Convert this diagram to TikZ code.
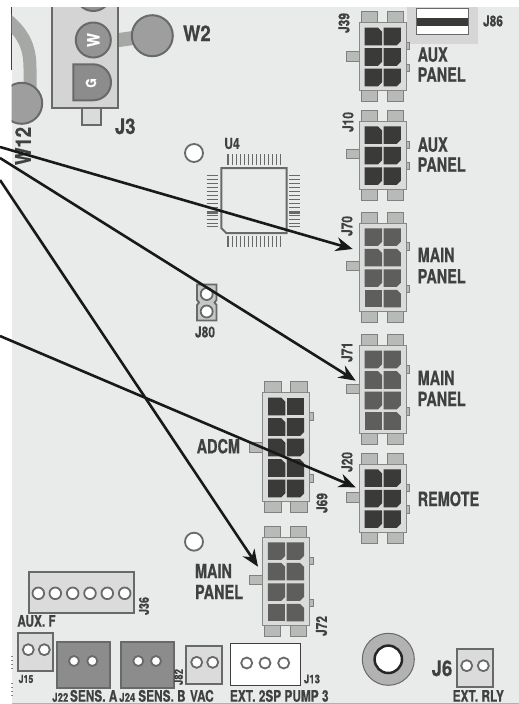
\documentclass[tikz,border=0pt]{standalone}
\usepackage{fontspec}
\usetikzlibrary{arrows.meta}
\newfontfamily\cnfont[FakeStretch=0.74,FakeBold=0.5]{TeX Gyre Heros}
\newfontfamily\cnmid[FakeStretch=0.8,FakeBold=0.35]{TeX Gyre Heros}
\newfontfamily\cnwide[FakeStretch=0.86,FakeBold=0.6]{TeX Gyre Heros}
\definecolor{bgc}{HTML}{E9EBEA}
\definecolor{edgec}{HTML}{686A68}
\definecolor{bodyc}{HTML}{DADBDA}
\definecolor{tabc}{HTML}{B8BAB8}
\definecolor{txtc}{HTML}{404040}
\definecolor{darkcell}{HTML}{3A3A38}
\definecolor{midcell}{HTML}{5E5E5C}
\definecolor{wirec}{HTML}{A6A8A6}
\tikzset{
  x=1pt,y=-1pt,
  lbl/.style={inner sep=0pt,outer sep=0pt,text=txtc},
  big/.style={lbl,anchor=base west,font=\cnfont\bfseries\fontsize{19.5}{19.5}\selectfont},
  mid/.style={lbl,font=\cnmid\bfseries\fontsize{15}{15}\selectfont},
  small/.style={lbl,font=\cnmid\bfseries\fontsize{11}{11}\selectfont},
  bottom/.style={lbl,anchor=base west,font=\cnfont\bfseries\fontsize{16}{16}\selectfont},
  huge/.style={lbl,anchor=base west,font=\cnwide\bfseries\fontsize{21.5}{21.5}\selectfont},
  connbody/.style={draw=edgec!80,fill=bodyc,line width=1pt,inner sep=0pt,outer sep=0pt,anchor=north west,minimum width=47pt},
  conntab/.style={draw=edgec!85,fill=tabc,line width=1pt},
  pad/.style={draw=edgec,fill=white,line width=1.8pt},
  hdr/.style={draw=edgec,line width=2pt},
  arr/.style={draw=black!90,line width=2.6pt,-{Stealth[length=17pt,width=14pt]}},
  pin/.style={draw=edgec,line width=0.8pt},
  pinb/.style={draw=edgec,line width=2pt},
}
% name, x, y, rows, cell colour, left tab y, right tab 1 y, right tab 2 y, cells r/c/code
\newcommand\conn[9]{%
  \pgfmathsetmacro\bh{6.2+20.5*#4}%
  \foreach \tx in {2,28}{%
    \draw[conntab] ({#2+\tx},{#3-11}) rectangle ++(16.3,11);
    \draw[conntab] ({#2+\tx},{#3+\bh}) rectangle ++(16.3,11);
  }%
  \draw[conntab] ({#2-13.3},{#3+#6}) rectangle ++(13.3,9.5);
  \draw[conntab] ({#2+47},{#3+#7}) rectangle ++(3.5,7.3);
  \draw[conntab] ({#2+47},{#3+#8}) rectangle ++(3.5,7.3);
  \node[connbody,minimum height=\bh pt] (#1) at (#2,#3) {};
  \foreach \r/\c/\k in {#9}{%
    \pgfmathsetmacro\cx{#2+5.4+18.8*\c}%
    \pgfmathsetmacro\cy{#3+5+20.5*\r}%
    \ifcase\k
      \fill[#5] (\cx,\cy) rectangle ++(17.3,17.6);
    \or
      \fill[#5] (\cx,\cy) -- ++(13.3,0) -- ++(4,4) -- ++(0,13.6) -- ++(-17.3,0) -- cycle;
    \or
      \fill[#5] (\cx,\cy) -- ++(17.3,0) -- ++(0,13.6) -- ++(-4,4) -- ++(-13.3,0) -- cycle;
    \fi
  }%
}
\begin{document}
\begin{tikzpicture}
\useasboundingbox (0,0) rectangle (519,704);
\fill[white] (0,0) rectangle (519,704);
\fill[bgc] (11.5,7) rectangle (519,703);
\draw[black!30,line width=0.7pt] (11.5,703) -- (519,703);
\draw[black!75,line width=0.7pt] (11.2,7) -- (11.2,70);
\foreach \ty in {656,660,664,668,683,687,691,695}{\draw[black!45,line width=0.7pt] (10.5,\ty) -- (12.5,\ty);}
\begin{scope}
\clip (11.5,7) rectangle (519,703);
% wires
\draw[wirec,line width=13pt] (5,18) .. controls (22,32) and (30,45) .. (30,68) -- (30,92);
\draw[wirec,line width=14pt] (112,41) -- (140,37);
% J3 block
\draw[hdr,fill=bodyc] (82.3,108) rectangle (100.7,125.3);
\draw[hdr,fill=black!17] (51.7,0) rectangle (118,108);
\draw[hdr,fill=black!42] (93.3,-7) circle (18);
\node[draw=edgec,line width=2pt,fill=black!42,circle,minimum size=35pt,inner sep=0pt] (W) at (93.3,40) {};
\draw[hdr,fill=black!45] (73.3,64.3) -- (93,64.3) .. controls (103,64.3) and (111,72.3) .. (111,82.3) .. controls (111,92.3) and (103,100.3) .. (93,100.3) -- (73.3,100.3) -- cycle;
\node[lbl,rotate=90,text=white,font=\cnwide\bfseries\fontsize{17}{17}\selectfont] (Wt) at (93.3,40) {W};
\node[lbl,rotate=90,text=white,font=\cnwide\bfseries\fontsize{14}{14}\selectfont] (Gt) at (91,83) {G};
\node[draw=edgec,line width=2pt,fill=black!38,circle,minimum size=41pt,inner sep=0pt] (cW2) at (152.3,35.7) {};
\node[draw=edgec,line width=2pt,fill=black!38,circle,minimum size=41pt,inner sep=0pt] (cW12) at (21.7,103.3) {};
\end{scope}
\node[huge] (tW2) at (183,41) {W2};
\node[huge,anchor=center,rotate=90] (tW12) at (23,146) {W12};
\node[huge] (tJ3) at (115,134) {J3};
% J86
\fill[black!16] (407.3,7) rectangle (477.7,43.7);
\draw[edgec,line width=1pt,fill=white] (416.3,8.3) rectangle (468.7,34.7);
\fill[darkcell] (416.8,18) rectangle (468.2,26);
\node[mid] (tJ86) at (493,21) {J86};
% connectors
\conn{J39}{359.3}{22.7}{3}{darkcell}{29}{19.6}{41.3}{0/0/1,0/1/2,1/0/2,1/1/2,2/0/2,2/1/2}
\conn{J10}{359.3}{121.3}{3}{darkcell}{28}{19.7}{41}{0/0/1,0/1/2,1/0/2,1/1/2,2/0/2,2/1/2}
\conn{J70}{359.3}{223.3}{4}{midcell}{38}{19.4}{62}{0/0/2,0/1/2,1/0/1,1/1/1,2/0/2,2/1/2,3/0/0,3/1/1}
\conn{J71}{359.3}{345.7}{4}{midcell}{38.3}{20}{62}{0/0/2,0/1/2,1/0/1,1/1/1,2/0/2,2/1/2,3/0/0,3/1/1}
\conn{J20}{359.3}{464.3}{3}{darkcell}{28.4}{19.7}{41.4}{0/0/1,0/1/2,1/0/2,1/1/2,2/0/2,2/1/2}
\conn{J69}{262.7}{392.7}{5}{darkcell}{50}{20}{82}{0/0/1,0/1/0,1/0/1,1/1/2,2/0/1,2/1/2,3/0/1,3/1/1,4/0/2,4/1/2}
\conn{J72}{262.5}{537.3}{4}{midcell}{38}{20}{62}{0/0/2,0/1/2,1/0/1,1/1/1,2/0/2,2/1/2,3/0/0,3/1/1}
% connector labels
\node[mid,rotate=90] (tJ39) at (344,23) {J39};
\node[mid,rotate=90] (tJ10) at (348,122) {J10};
\node[mid,rotate=90] (tJ70) at (347,226) {J70};
\node[mid,rotate=90] (tJ71) at (347,352) {J71};
\node[mid,rotate=90] (tJ20) at (347,462) {J20};
\node[mid,rotate=90] (tJ69) at (322,503) {J69};
\node[mid,rotate=90] (tJ72) at (321.5,626) {J72};
\node[big] (a1) at (417.7,61.7) {AUX};
\node[big] (a2) at (417.7,81.7) {PANEL};
\node[big] (a3) at (417.7,151.7) {AUX};
\node[big] (a4) at (417.7,171.7) {PANEL};
\node[big] (m1) at (417.7,262) {MAIN};
\node[big] (m2) at (417.7,283.3) {PANEL};
\node[big] (m3) at (417.7,385) {MAIN};
\node[big] (m4) at (417.7,406) {PANEL};
\node[big] (rem) at (417.7,506) {REMOTE};
\node[big] (adcm) at (196.7,453.3) {ADCM};
\node[big] (m5) at (195,578) {MAIN};
\node[big] (m6) at (195,599) {PANEL};
% U4
\node[pad,circle,minimum size=18pt,inner sep=0pt] (h1) at (194,153) {};
\node[pad,circle,minimum size=18pt,inner sep=0pt] (h2) at (194,541.7) {};
\node[mid] (tU4) at (232,143.5) {U4};
\draw[edgec,line width=2pt] (221.3,168) -- (286.7,168) -- (286.7,233) -- (226.3,233) -- (221.3,228) -- cycle;
\foreach \i in {0,...,13}{
  \pgfmathsetmacro\p{228+4.02*\i}
  \pgfmathsetmacro\q{175.5+3.95*\i}
  \draw[pin] (\p,154) -- (\p,165);
  \draw[pin] (\p,236) -- (\p,246.7);
  \draw[pin] (206.7,\q) -- (218.3,\q);
  \draw[pin] (289.3,\q) -- (300,\q);
}
\draw[pinb] (228,154) -- (228,165);
\draw[pinb] (228,236) -- (228,246.7);
\draw[pinb] (206.7,213) -- (218.3,213);
\draw[pinb] (289.3,213) -- (300,213);
% J80
\draw[edgec,line width=1.8pt,fill=black!22] (197,284.5) -- (216.5,284.5) -- (216.5,300) -- (214.5,302.5) -- (216.5,305) -- (216.5,320.5) -- (197,320.5) -- (197,305) -- (199,302.5) -- (197,300) -- cycle;
\node[pad,circle,minimum size=12pt,inner sep=0pt] (j80a) at (206.7,294) {};
\node[pad,circle,minimum size=12pt,inner sep=0pt] (j80b) at (206.7,311.5) {};
\node[mid] (tJ80) at (205,332) {J80};
% J36
\draw[hdr,fill=bodyc] (28.7,572) rectangle (134,613.3);
\foreach \cxx in {38.3,55.3,72.7,90,107.3,124.7}{\draw[pad] (\cxx,593.3) circle (5.8);}
\node[small,rotate=90,font=\cnmid\bfseries\fontsize{13.5}{13.5}\selectfont] (tJ36) at (144,606) {J36};
\node[bottom] (tAF) at (17.3,626.7) {AUX. F};
% J15
\draw[hdr,fill=bodyc] (18.3,632.7) rectangle (53.3,670.7);
\draw[pad] (28.3,649.7) circle (5.5);
\draw[pad] (44.3,649.7) circle (5.5);
\node[small] (tJ15) at (26,679) {J15};
% J22, J24
\draw[hdr,fill=black!45] (57.3,642.3) rectangle (110,688);
\draw[pad] (74,661) circle (5);
\draw[pad] (92.3,661) circle (5);
\draw[hdr,fill=black!45] (121.3,642.3) rectangle (174.3,688);
\draw[pad] (138.3,661) circle (5);
\draw[pad] (156,661) circle (5);
\node[small,anchor=base west,font=\cnmid\bfseries\fontsize{12}{12}\selectfont] (tJ22) at (52.3,701.7) {J22};
\node[bottom] (tSA) at (70,701.7) {SENS. A};
\node[small,anchor=base west,font=\cnmid\bfseries\fontsize{12}{12}\selectfont] (tJ24) at (119.3,701.7) {J24};
\node[bottom] (tSB) at (138.3,701.7) {SENS. B};
\node[small,rotate=90,font=\cnmid\bfseries\fontsize{12}{12}\selectfont] (tJ82) at (178.5,677) {J82};
% VAC
\draw[hdr,fill=bodyc] (186.3,645.7) rectangle (222.3,684);
\draw[pad] (196.7,662.3) circle (5.5);
\draw[pad] (212.7,662.3) circle (5.5);
\node[bottom] (tV) at (190,701.7) {VAC};
% J13
\draw[draw=black!75,line width=1pt,fill=white] (230.3,643.7) rectangle (300,685.3);
\draw[pad] (246.7,663) circle (5.5);
\draw[pad] (265,663) circle (5.5);
\draw[pad] (283.7,663) circle (5.5);
\node[small,font=\cnmid\bfseries\fontsize{12}{12}\selectfont] (tJ13) at (312,679) {J13};
\node[bottom] (tE) at (230,701.7) {EXT. 2SP PUMP 3};
% washer
\draw[edgec,line width=1pt,fill=black!30] (388.3,659.3) circle (26);
\draw[black!85,line width=2.5pt,fill=white] (388.3,659.3) circle (13.7);
% J6
\node[huge] (tJ6) at (431.7,676) {J6};
\draw[hdr,fill=bodyc] (456.7,649) rectangle (492.7,687);
\draw[pad] (466.7,665.7) circle (5.5);
\draw[pad] (483.3,665.7) circle (5.5);
\node[bottom] (tR) at (452.7,701.7) {EXT. RLY};
% arrows
\coordinate (s1) at (0,147);
\coordinate (s2) at (0,158);
\coordinate (s3) at (0,180);
\coordinate (s4) at (0,336);
\coordinate (e1) at (352.7,249);
\coordinate (e2) at (355.7,380.7);
\coordinate (e3) at (258,566.7);
\coordinate (e4) at (355.7,487.3);
\draw[arr] (s1) -- (e1);
\draw[arr] (s2) -- (e2);
\draw[arr] (s3) -- (e3);
\draw[arr] (s4) -- (e4);
\end{tikzpicture}
\end{document}
